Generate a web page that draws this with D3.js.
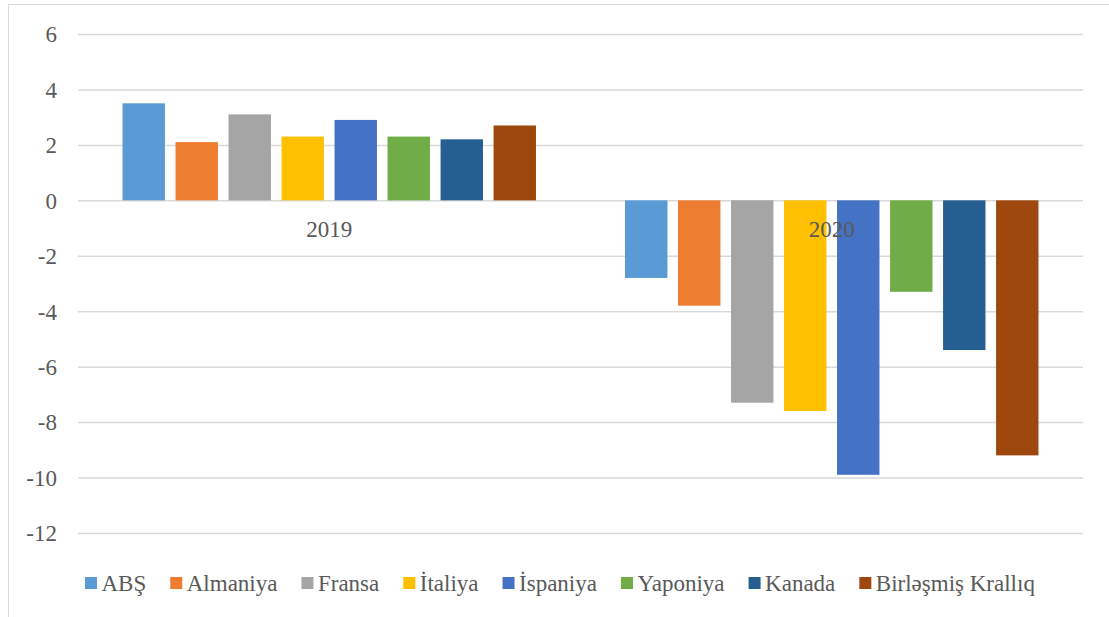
<!DOCTYPE html>
<html>
<head>
<meta charset="utf-8">
<script src="https://cdn.jsdelivr.net/npm/d3@7"></script>
<style>
  html, body { margin: 0; padding: 0; background: #fff; }
  svg { display: block; }
  svg text { font-family: "Liberation Serif", "Times New Roman", serif; }
</style>
</head>
<body>
<figure id="growthChart" style="margin:0"></figure>
<script>
const years = ["2019", "2020"];
const countries = ["ABŞ", "Almaniya", "Fransa", "İtaliya", "İspaniya", "Yaponiya", "Kanada", "Birləşmiş Krallıq"];
const values2019 = [3.5, 2.1, 3.1, 2.3, 2.9, 2.3, 2.2, 2.7];
const values2020 = [-2.8, -3.8, -7.3, -7.6, -9.9, -3.3, -5.4, -9.2];
const yTicks = [6, 4, 2, 0, -2, -4, -6, -8, -10, -12];
const colors = ["#5B9BD5", "#ED7D31", "#A5A5A5", "#FFC000", "#4472C4", "#70AD47", "#255E91", "#9E480E"];

class GrowthChart {

  constructor() {
    this.width = 1109;
    this.height = 617;
    this.margin = { top: 34, bottom: 84, left: 78, right: 26 };
    this.textColor = "#595959";
    this.gridColor = "#d9d9d9";
    this.fontSize = 23;
  }

  init() {
    this.svg = d3.select("figure#growthChart").append("svg")
      .attr("width", this.width)
      .attr("height", this.height);
    // chart area frame (runs off the picture on the right and bottom)
    this.svg.append("rect")
      .attr("x", 8.5).attr("y", 4.5)
      .attr("width", this.width + 20).attr("height", this.height + 20)
      .attr("fill", "#fff")
      .attr("stroke", this.gridColor);
  }

  update() {
    const m = this.margin;
    const x0 = d3.scaleBand()
      .domain(years)
      .range([m.left, this.width - m.right]);
    const x1 = d3.scaleBand()
      .domain(countries)
      .range([0, x0.bandwidth()])
      .paddingInner(0.2)
      .paddingOuter(0.84);
    const y = d3.scaleLinear()
      .domain([-12, 6])
      .range([this.height - m.bottom, m.top]);

    // grid + y labels
    const yAxis = d3.axisLeft(y)
      .tickValues(yTicks)
      .tickSizeInner(-(this.width - m.left - m.right))
      .tickSizeOuter(0)
      .tickPadding(21)
      .tickFormat((d) => d);
    const ga = this.svg.append("g")
      .attr("transform", "translate(" + m.left + ",0)")
      .call(yAxis);
    ga.attr("font-family", null).attr("font-size", null);
    ga.select(".domain").remove();
    ga.selectAll(".tick line")
      .attr("stroke", this.gridColor)
      .attr("stroke-width", 1.5);
    ga.selectAll(".tick text")
      .attr("fill", this.textColor)
      .attr("font-size", this.fontSize)
      .attr("dy", "0.34em");

    // bars
    const series = [values2019, values2020];
    years.forEach((yr, i) => {
      this.svg.append("g")
        .selectAll("rect")
        .data(series[i]).enter()
        .append("rect")
        .attr("x", (d, j) => x0(yr) + x1(countries[j]))
        .attr("y", (d) => d >= 0 ? y(d) : y(0))
        .attr("width", x1.bandwidth())
        .attr("height", (d) => Math.abs(y(d) - y(0)))
        .attr("fill", (d, j) => colors[j]);
    });

    // category labels sit just under the zero line
    this.svg.append("g")
      .selectAll("text")
      .data(years).enter()
      .append("text")
      .attr("x", (d) => x0(d) + x0.bandwidth() / 2)
      .attr("y", y(0) + 36.5)
      .attr("text-anchor", "middle")
      .attr("fill", this.textColor)
      .attr("font-size", this.fontSize)
      .text((d) => d);

    // legend
    const legend = this.svg.append("g").attr("transform", "translate(85,583)");
    let cx = 0;
    countries.forEach((c, i) => {
      const item = legend.append("g").attr("transform", "translate(" + cx + ",0)");
      item.append("rect")
        .attr("x", 0).attr("y", -6)
        .attr("width", 12).attr("height", 12)
        .attr("fill", colors[i]);
      const t = item.append("text")
        .attr("x", 16.5).attr("y", 0)
        .attr("dy", "0.34em")
        .attr("fill", this.textColor)
        .attr("font-size", this.fontSize)
        .text(c);
      cx += 16.5 + t.node().getComputedTextLength() + 24;
    });
  }
}

const growthChart = new GrowthChart();
growthChart.init();
growthChart.update();
</script>
</body>
</html>
